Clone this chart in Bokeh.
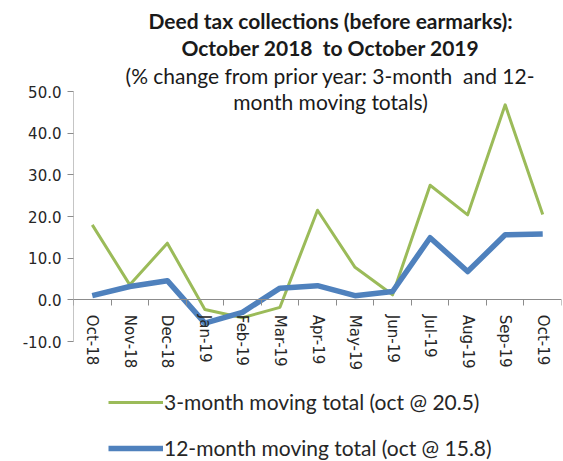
import math
from bokeh.plotting import figure
from bokeh.models import (LinearAxis, FixedTicker, NumeralTickFormatter, Label,
                          Legend, LegendItem, ColumnDataSource, Range1d)
from bokeh.embed import file_html
from bokeh.resources import INLINE

months = ["Oct-18", "Nov-18", "Dec-18", "Jan-19", "Feb-19", "Mar-19", "Apr-19",
          "May-19", "Jun-19", "Jul-19", "Aug-19", "Sep-19", "Oct-19"]
three_month = [18.0, 3.6, 13.6, -2.3, -4.3, -1.8, 21.5, 7.8, 1.2, 27.5, 20.4, 46.8, 20.5]
twelve_month = [1.0, 3.2, 4.6, -5.6, -3.0, 2.8, 3.4, 1.0, 2.0, 14.9, 6.8, 15.6, 15.8]
y_ticks = [-10, 0, 10, 20, 30, 40, 50]

title_lines = ["Deed tax collections (before earmarks):",
               "October 2018\u00a0 to October 2019",
               "(% change from prior year: 3-month\u00a0 and 12-",
               "month moving totals)"]
legend_labels = ["3-month moving total (oct @ 20.5)",
                 "12-month moving total (oct @ 15.8)"]

GREEN = "#9BBB59"
BLUE = "#4F81BD"
AXIS_C = "#8C8C8C"
TXT = "#262626"

W, H = 563, 461
LEFT, RIGHT = 73, 2
Y_TOP_PX, Y_BOT_PX = 91, 341          # pixel rows of the 50 and -10 ticks
ymin, ymax = min(y_ticks), max(y_ticks)
ppu = (Y_BOT_PX - Y_TOP_PX) / (ymax - ymin)
y_hi = ymax + Y_TOP_PX / ppu
y_lo = ymin - (H - Y_BOT_PX) / ppu

n = len(months)
xc = [i + 0.5 for i in range(n)]
src = ColumnDataSource(dict(x=xc, g=three_month, b=twelve_month))

p = figure(width=W, height=H, output_backend="svg", toolbar_location=None,
           x_axis_location=None, y_axis_location=None,
           x_range=Range1d(0, n), y_range=Range1d(y_lo, y_hi),
           min_border_left=LEFT, min_border_right=RIGHT, min_border_top=0,
           min_border_bottom=0)
p.grid.visible = False
p.outline_line_color = None
p.background_fill_color = "white"
p.border_fill_color = "white"

# y axis (ticks + labels), axis line drawn only between -10 and 50
yax = LinearAxis(ticker=FixedTicker(ticks=y_ticks),
                 formatter=NumeralTickFormatter(format="0.0"))
yax.axis_line_color = None
yax.major_tick_line_color = AXIS_C
yax.major_tick_out = 6
yax.major_tick_in = 0
yax.minor_tick_line_color = None
yax.major_label_text_font = "DejaVu Sans"
yax.major_label_text_font_size = "15px"
yax.major_label_text_color = TXT
yax.major_label_standoff = 6
p.add_layout(yax, "left")
p.segment(x0=[0], y0=[ymin], x1=[0], y1=[ymax], line_color=AXIS_C, line_width=1)

# x axis: tick marks at category boundaries, fixed at y=0
xtick = LinearAxis(ticker=FixedTicker(ticks=list(range(0, n + 1))), fixed_location=0)
xtick.axis_line_color = AXIS_C
xtick.major_tick_line_color = AXIS_C
xtick.major_tick_out = 6
xtick.major_tick_in = 0
xtick.minor_tick_line_color = None
xtick.major_label_text_alpha = 0
xtick.major_label_text_font_size = "1px"
p.add_layout(xtick, "below")

# x axis: category labels at centres
xlab = LinearAxis(ticker=FixedTicker(ticks=xc), fixed_location=0,
                  major_label_overrides={x: m for x, m in zip(xc, months)})
xlab.axis_line_color = None
xlab.major_tick_line_color = None
xlab.minor_tick_line_color = None
xlab.major_label_orientation = -math.pi / 2
xlab.major_label_text_font = "DejaVu Sans"
xlab.major_label_text_font_size = "15px"
xlab.major_label_text_color = TXT
xlab.major_label_standoff = 9
p.add_layout(xlab, "below")

rg = p.line("x", "g", source=src, line_color=GREEN, line_width=3, line_join="round")
rb = p.line("x", "b", source=src, line_color=BLUE, line_width=5.5, line_join="round")

# title (screen units from frame bottom-left)
ys = [H - 20, H - 47, H - 75, H - 101]
for i, (t, yy) in enumerate(zip(title_lines, ys)):
    p.add_layout(Label(x=330 - LEFT, y=yy, x_units="screen", y_units="screen", text=t,
                       text_align="center", text_baseline="middle",
                       text_font="Lato", text_font_size="21px",
                       text_font_style="bold" if i < 2 else "normal",
                       text_color="#1a1a1a"))

legend = Legend(items=[LegendItem(label=legend_labels[0], renderers=[rg]),
                       LegendItem(label=legend_labels[1], renderers=[rb])],
                location=(108 - LEFT, 1), orientation="vertical",
                border_line_color=None, background_fill_alpha=0,
                glyph_width=55, glyph_height=20, label_height=20,
                spacing=21, padding=0, margin=0, label_standoff=1,
                label_text_font="Lato", label_text_font_size="21px",
                label_text_color=TXT)
p.add_layout(legend, "center")

open("out.html", "w").write(file_html(p, INLINE))
